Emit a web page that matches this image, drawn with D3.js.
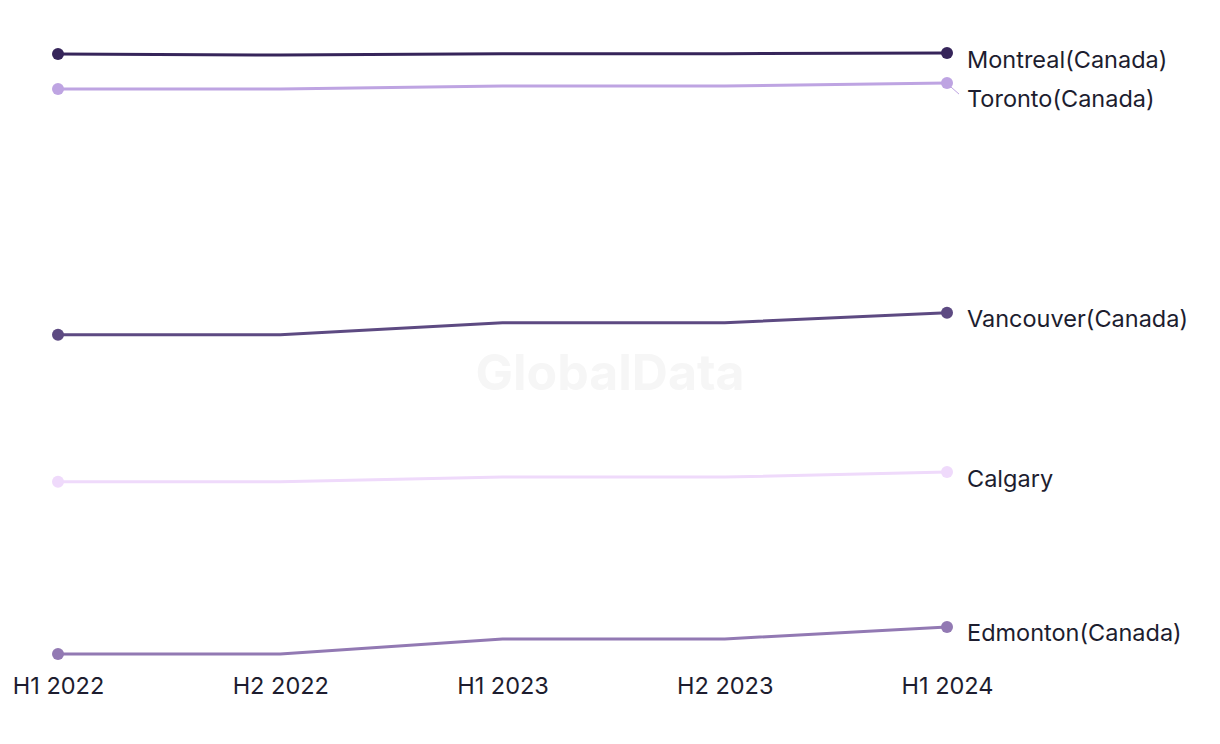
<!DOCTYPE html>
<html><head><meta charset="utf-8">
<script src="https://cdn.jsdelivr.net/npm/d3@7"></script>
<style>
html,body{margin:0;padding:0;background:#fff;}
text{font-family:Inter,"Noto Sans",sans-serif;}
</style></head>
<body>
<svg id="chart" width="1220" height="744"></svg>
<script>
const periods = ["H1 2022","H2 2022","H1 2023","H2 2023","H1 2024"];
const cities = ["Montreal(Canada)","Toronto(Canada)","Vancouver(Canada)","Calgary","Edmonton(Canada)"];
const montreal  = [99.85, 99.7, 99.9, 99.9, 100];
const toronto   = [94.6, 94.6, 95.06, 95.06, 95.5];
const vancouver = [57.8, 57.8, 59.6, 59.6, 61.1];
const calgary   = [35.8, 35.8, 36.5, 36.5, 37.25];
const edmonton  = [10, 10, 12.25, 12.25, 14.04];
const colors = ["#36255a","#bea4e2","#5d4a82","#efdafb","#9279b3"];
const labelShift = [14.5, 24, 14, 14.5, 14];

const seriesList = [montreal, toronto, vancouver, calgary, edmonton];
const svg = d3.select("#chart");

const x = d3.scalePoint().domain(periods).range([58, 947]);
const y = d3.scaleLinear().domain([10, 100]).range([654, 53]);

// watermark
svg.append("text").attr("x", 610).attr("y", 390).attr("text-anchor","middle")
  .attr("font-size", 50).attr("font-weight", 700).attr("fill", "#f6f6f6")
  .style("font-family","Inter, 'Liberation Sans', sans-serif")
  .text("GlobalData");

const line = d3.line().x((d,i)=>x(periods[i])).y(d=>y(d));

seriesList.forEach((s, k) => {
  const g = svg.append("g");
  g.append("path").datum(s).attr("d", line).attr("fill","none")
    .attr("stroke", colors[k]).attr("stroke-width", 3);
  const ends = [0, s.length-1];
  g.selectAll("circle").data(ends).join("circle")
    .attr("cx", i=>x(periods[i])).attr("cy", i=>y(s[i])).attr("r", 6)
    .attr("fill", colors[k]);
  const last = s[s.length-1];
  const ly = y(last) + labelShift[k];
  if (labelShift[k] > 20) {
    g.append("line").attr("x1", x(periods[4])+4).attr("y1", y(last)+4)
      .attr("x2", x(periods[4])+12).attr("y2", y(last)+11)
      .attr("stroke", colors[k]).attr("stroke-width", 1);
  }
  g.append("text").attr("x", 967).attr("y", ly)
    .attr("font-size", 23.5).attr("fill", "#1d1d2f").text(cities[k]);
});

const axis = d3.axisBottom(x).tickSize(0).tickPadding(0);
const ax = svg.append("g").attr("transform","translate(0,694)").call(axis);
ax.select(".domain").remove();
ax.selectAll("text").attr("font-size", 23.5).attr("fill","#1d1d2f").attr("dy", 0)
  .style("font-family","Inter, 'Noto Sans', sans-serif");
</script>
</body></html>
